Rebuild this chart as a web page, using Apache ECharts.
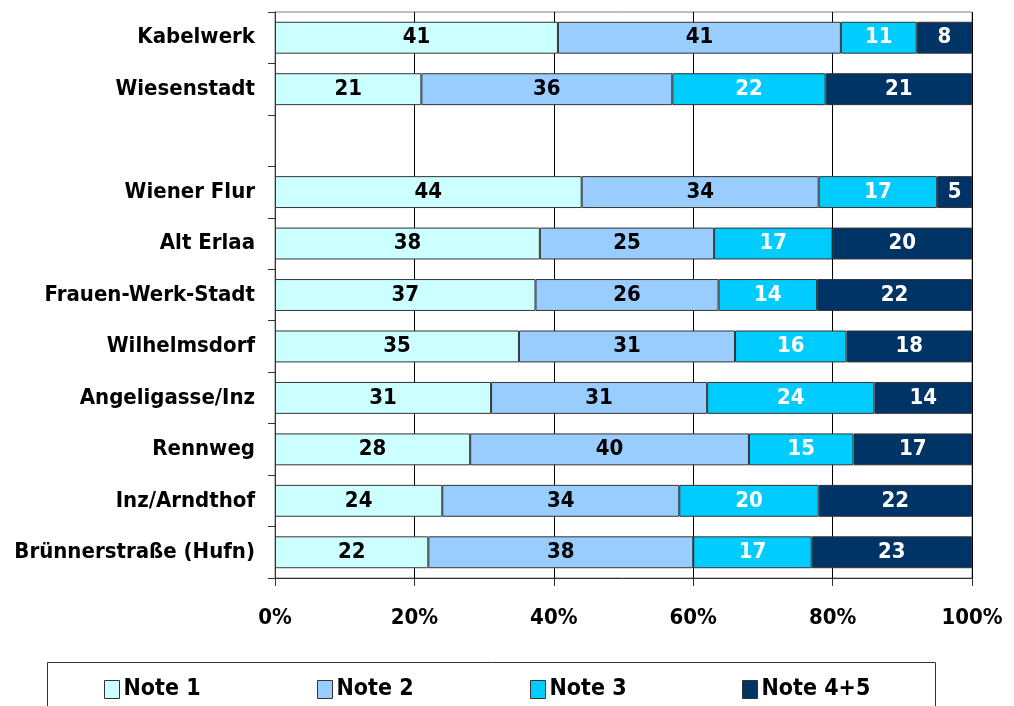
<!DOCTYPE html>
<html>
<head>
<meta charset="utf-8">
<script src="https://cdn.jsdelivr.net/npm/echarts@6/dist/echarts.min.js"></script>
<style>
  html, body { margin: 0; padding: 0; background: #fff; }
  #chart { width: 1014px; height: 706px; }
</style>
</head>
<body>
<div id="chart"></div>
<script>
// categories from top to bottom, '' is the empty slot in the chart
const categories = ['Kabelwerk', 'Wiesenstadt', '', 'Wiener Flur', 'Alt Erlaa', 'Frauen-Werk-Stadt',
  'Wilhelmsdorf', 'Angeligasse/Inz', 'Rennweg', 'Inz/Arndthof', 'Brünnerstraße (Hufn)']
const note1 = [41, 21, null, 44, 38, 37, 35, 31, 28, 24, 22]
const note2 = [41, 36, null, 34, 25, 26, 31, 31, 40, 34, 38]
const note3 = [11, 22, null, 17, 17, 14, 16, 24, 15, 20, 17]
const note45 = [8, 21, null, 5, 20, 22, 18, 14, 17, 22, 23]
const seriesNames = ['Note 1', 'Note 2', 'Note 3', 'Note 4+5']
const xTicks = [0, 20, 40, 60, 80, 100]

const font = 'DejaVu Sans Condensed'
const colors = ['#CCFFFF', '#99CCFF', '#00CCFF', '#003366']
const labelColors = ['#000', '#000', '#fff', '#fff']
const rows = [note1, note2, note3, note45]
const legendLeft = [104, 317, 530, 742]

// bars are drawn as share of the row total (100% stacked)
const totals = categories.map((c, i) => {
  if (note1[i] == null) return null
  return note1[i] + note2[i] + note3[i] + note45[i]
})

const series = rows.map((vals, s) => ({
  name: seriesNames[s],
  type: 'bar',
  stack: 'total',
  barCategoryGap: '38%',
  data: vals.map((v, i) => v == null ? null : v / totals[i] * 100),
  itemStyle: { color: colors[s], borderColor: '#333', borderWidth: 1 },
  label: {
    show: true,
    position: 'inside',
    formatter: p => vals[p.dataIndex],
    color: labelColors[s],
    fontFamily: font,
    fontWeight: 'bold',
    fontSize: 22
  },
  emphasis: { disabled: true }
}))

// one legend per entry so the spacing follows the picture
const legends = seriesNames.map((n, s) => ({
  left: legendLeft[s],
  top: 678,
  padding: 0,
  itemWidth: 15,
  itemHeight: 18,
  icon: 'rect',
  itemStyle: { borderColor: '#333', borderWidth: 1 },
  textStyle: {
    color: '#000',
    fontFamily: font,
    fontWeight: 'bold',
    fontSize: 23,
    padding: [0, 0, 0, -1]
  },
  data: [n]
}))

const chart = echarts.init(document.getElementById('chart'))
chart.setOption({
  animation: false,
  textStyle: { fontFamily: font },
  grid: {
    left: 275, right: 42, top: 12, height: 566,
    show: true, borderColor: '#808080', borderWidth: 1
  },
  xAxis: {
    type: 'value',
    min: xTicks[0],
    max: xTicks[xTicks.length - 1],
    interval: xTicks[1] - xTicks[0],
    axisLine: { show: true, lineStyle: { color: '#333', width: 1 } },
    axisTick: { show: true, length: 8, lineStyle: { color: '#333' } },
    splitLine: { show: true, lineStyle: { color: '#000', width: 1 } },
    axisLabel: {
      formatter: '{value}%',
      color: '#000',
      fontFamily: font,
      fontWeight: 'bold',
      fontSize: 22,
      margin: 29
    }
  },
  yAxis: {
    type: 'category',
    data: categories,
    inverse: true,
    axisLine: { show: true, lineStyle: { color: '#333', width: 1 } },
    axisTick: { show: true, length: 7, lineStyle: { color: '#333' } },
    axisLabel: {
      color: '#000',
      fontFamily: font,
      fontWeight: 'bold',
      fontSize: 22,
      margin: 20
    }
  },
  legend: legends,
  graphic: [{
    type: 'rect',
    left: 45,
    top: 660,
    shape: { width: 888, height: 60 },
    style: { fill: 'none', stroke: '#333', lineWidth: 1 },
    silent: true
  }],
  series: series
})
</script>
</body>
</html>
